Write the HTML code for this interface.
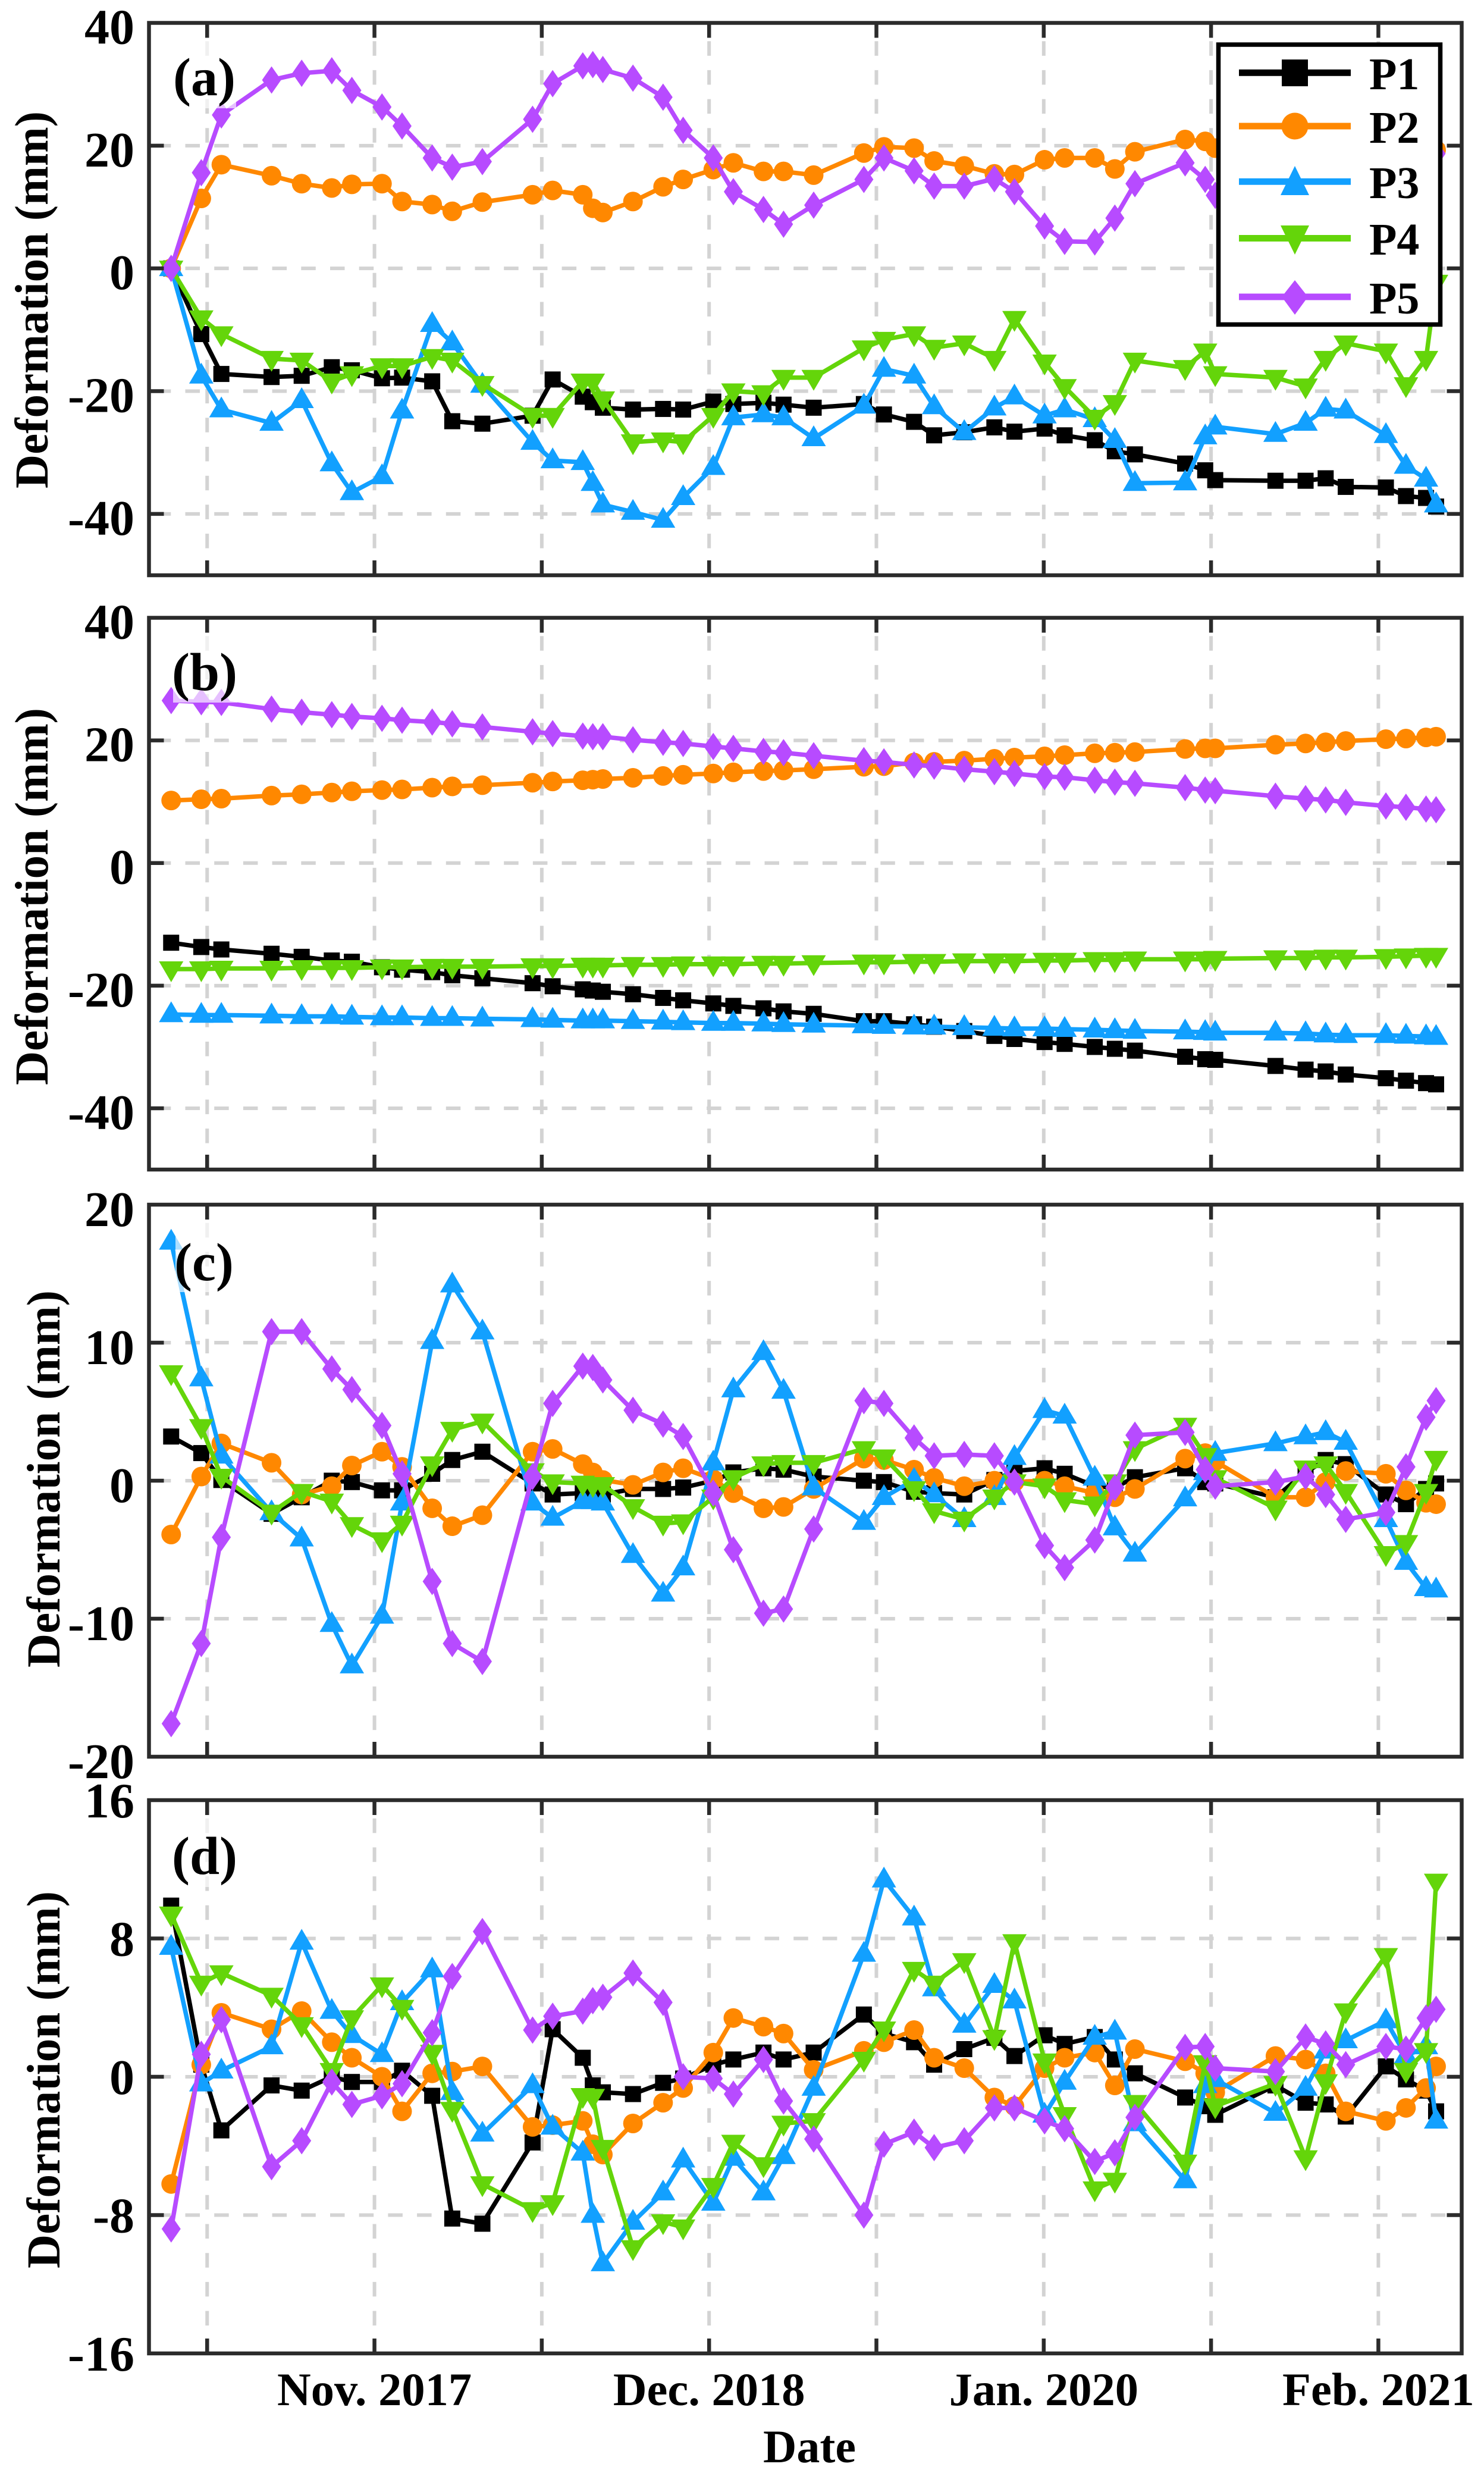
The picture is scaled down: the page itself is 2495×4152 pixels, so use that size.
<!DOCTYPE html>
<html lang="en">
<head>
<meta charset="utf-8">
<title>Deformation time series</title>
<style>
html,body{margin:0;padding:0;background:#fff;}
svg{display:block;}
text{font-family:"Liberation Serif","Noto Serif CJK SC",serif;font-weight:bold;fill:#000;}
</style>
</head>
<body>
<svg id="chart" xmlns="http://www.w3.org/2000/svg" width="2495" height="4152" viewBox="0 0 2495 4152">
<rect x="0" y="0" width="2495" height="4152" fill="#fff"/>
<g id="plots"></g>

<g>
<rect x="293" y="66" width="104" height="116" fill="rgba(255,255,255,.65)"/>
<text x="291" y="160" font-size="90">(a)</text>
<rect x="291" y="1066" width="108" height="115" fill="rgba(255,255,255,.65)"/>
<text x="289" y="1160" font-size="90">(b)</text>
<rect x="295" y="2055" width="98" height="117" fill="rgba(255,255,255,.65)"/>
<text x="293" y="2152" font-size="90">(c)</text>
<rect x="291" y="3055" width="108" height="117" fill="rgba(255,255,255,.65)"/>
<text x="289" y="3150" font-size="90">(d)</text>
</g>

<g>
<text transform="translate(80,504) rotate(-90)" text-anchor="middle" font-size="79">Deformation (mm)</text>
<text transform="translate(80,1507) rotate(-90)" text-anchor="middle" font-size="79">Deformation (mm)</text>
<text transform="translate(100,2486) rotate(-90)" text-anchor="middle" font-size="79">Deformation (mm)</text>
<text transform="translate(100,3496) rotate(-90)" text-anchor="middle" font-size="79">Deformation (mm)</text>
</g>

<text x="1361" y="4139" text-anchor="middle" font-size="78">Date</text>

<g>
<rect x="2048.5" y="75" width="373" height="470.5" fill="#fff" stroke="#000" stroke-width="7.5"/>
<g>
<line x1="2083" y1="122.3" x2="2271" y2="122.3" stroke="#000" stroke-width="11"/>
<rect x="2155" y="100" width="44" height="45" fill="#000"/>
<text x="2302" y="150" font-size="76">P1</text>
</g>
<g>
<line x1="2083" y1="212" x2="2271" y2="212" stroke="#ff8800" stroke-width="11"/>
<circle cx="2177" cy="212" r="22.5" fill="#ff8800"/>
<text x="2302" y="240" font-size="76">P2</text>
</g>
<g>
<line x1="2083" y1="305.3" x2="2271" y2="305.3" stroke="#12a0ff" stroke-width="11"/>
<polygon points="2177,279 2201,328 2153,328" fill="#12a0ff"/>
<text x="2302" y="333" font-size="76">P3</text>
</g>
<g>
<line x1="2083" y1="400.5" x2="2271" y2="400.5" stroke="#64d50a" stroke-width="11"/>
<polygon points="2153,379 2201,379 2177,428" fill="#64d50a"/>
<text x="2302" y="428" font-size="76">P4</text>
</g>
<g>
<line x1="2083" y1="499" x2="2271" y2="499" stroke="#b74bff" stroke-width="11"/>
<polygon points="2177,471 2199,499 2177,529 2155,499" fill="#b74bff"/>
<text x="2302" y="527" font-size="76">P5</text>
</g>
</g>
</svg>

<script>
// Observation epochs, in days since the first acquisition
const obsDays = [0,36,60,120,156,192,216,252,276,312,336,372,432,456,492,504,516,552,588,612,648,672,708,732,768,828,852,888,912,948,984,1008,1044,1068,1104,1128,1152,1212,1236,1248,1320,1356,1380,1404,1452,1476,1500,1512];

// X ticks, in days since the first acquisition
const xTickDays = [43,243,443,643,843,1043,1243,1443];
const xTickLabels = ["","Nov. 2017","","Dec. 2018","","Jan. 2020","","Feb. 2021"];

// Y ticks
const yTicksA = [40,20,0,-20,-40];
const yTicksB = [40,20,0,-20,-40];
const yTicksC = [20,10,0,-10,-20];
const yTicksD = [16,8,0,-8,-16];

// Panel (a)
const a_P1 = [0,-10.7,-17.2,-17.7,-17.5,-16.1,-16.6,-17.9,-17.8,-18.4,-24.9,-25.3,-24,-18.1,-20.9,-21.8,-22.7,-23,-22.9,-23,-21.7,-22.1,-21.9,-22.2,-22.7,-22.1,-23.8,-25,-27.2,-26.7,-25.9,-26.6,-26.1,-27.2,-28,-29.8,-30.3,-31.8,-32.9,-34.5,-34.6,-34.6,-34.2,-35.6,-35.7,-37.1,-37.4,-38.8];
const a_P2 = [0,11.4,16.9,15.1,13.8,13.1,13.7,13.8,10.9,10.4,9.3,10.8,12,12.7,12,9.8,9.1,10.9,13.3,14.5,16.1,17.2,15.8,15.8,15.2,18.8,19.8,19.6,17.5,16.7,15.4,15.3,17.7,18,18,16.2,19,21,20.7,19.6,19,19.5,19,20,20,19.5,19.5,19.3];
const a_P3 = [0,-17.5,-23,-25.2,-21.5,-31.8,-36.5,-33.9,-23.2,-9.1,-12.1,-19,-28.3,-31.3,-31.6,-35,-38.5,-39.7,-41,-37.3,-32.4,-24.3,-23.8,-24.3,-27.7,-22.4,-16.4,-17.5,-22.5,-26.7,-22.7,-20.9,-24,-23,-24.6,-28,-35,-34.9,-27.4,-25.8,-27,-25.2,-22.9,-23.2,-27.2,-32.2,-34.3,-38.5];
const a_P4 = [0,-8.1,-10.7,-14.7,-15,-18.4,-17.2,-15.9,-15.9,-14.4,-15,-18.8,-24,-24,-18.4,-18.4,-21.3,-28.3,-28,-28.3,-24,-20,-20.3,-17.8,-17.8,-13,-11.6,-10.7,-12.9,-12.2,-14.7,-8.2,-15.3,-19.3,-24.3,-21.9,-15,-16.2,-13.5,-17.2,-17.8,-19.2,-14.7,-12.2,-13.5,-19,-14.7,-2.3];
const a_P5 = [0,15.6,25,30.7,31.8,32.2,29,26.3,23.2,18,16.5,17.4,24.3,30.1,33,33.2,32.4,31,27.9,22.5,18,12.5,9.6,7.2,10.3,14.5,18,15.9,13.4,13.4,14.6,12.5,6.9,4.4,4.3,8.2,13.8,17.2,14.5,11.9,12,13,14,14,15,17,18,18.7];

// Panel (b)
const b_P1 = [-13,-13.7,-14.1,-14.8,-15.3,-15.9,-16.1,-17,-17.4,-17.8,-18.3,-18.8,-19.6,-20.1,-20.6,-20.8,-21,-21.4,-22,-22.4,-22.9,-23.3,-23.7,-24.2,-24.6,-25.8,-25.8,-26.3,-26.7,-27.4,-28.2,-28.7,-29.2,-29.5,-30,-30.3,-30.6,-31.6,-32,-32.1,-33.1,-33.7,-34,-34.5,-35.1,-35.5,-35.9,-36.1];
const b_P2 = [10.2,10.4,10.5,11,11.2,11.5,11.7,11.9,12,12.3,12.5,12.7,13.1,13.3,13.5,13.6,13.7,13.9,14.2,14.4,14.6,14.8,15,15.1,15.3,15.7,15.8,16.4,16.5,16.7,17,17.2,17.4,17.6,17.9,18,18.1,18.6,18.7,18.7,19.3,19.5,19.7,19.9,20.2,20.3,20.5,20.6];
const b_P3 = [-24.7,-24.8,-24.8,-24.9,-25,-25,-25.1,-25.2,-25.2,-25.3,-25.3,-25.4,-25.5,-25.6,-25.7,-25.7,-25.7,-25.8,-25.9,-26,-26.1,-26.1,-26.2,-26.3,-26.4,-26.5,-26.6,-26.7,-26.7,-26.8,-26.9,-27,-27,-27.1,-27.2,-27.3,-27.4,-27.5,-27.6,-27.7,-27.7,-27.8,-28,-28.1,-28.1,-28.2,-28.3,-28.4];
const b_P4 = [-17.3,-17.3,-17.2,-17.2,-17.1,-17.1,-17.1,-17,-17,-16.9,-16.9,-16.9,-16.8,-16.8,-16.7,-16.7,-16.7,-16.6,-16.6,-16.5,-16.5,-16.5,-16.4,-16.4,-16.3,-16.2,-16.2,-16.1,-16.1,-16,-16,-16,-15.9,-15.9,-15.8,-15.8,-15.7,-15.7,-15.7,-15.6,-15.5,-15.5,-15.4,-15.4,-15.3,-15.2,-15.1,-15.1];
const b_P5 = [26.5,26.3,26.2,25.1,24.6,24.2,23.9,23.6,23.3,23,22.7,22.2,21.4,21.1,20.7,20.6,20.6,20.1,19.7,19.5,19,18.7,18.2,18,17.5,16.7,16.5,16,15.8,15.3,14.9,14.6,14.1,14,13.5,13.2,13,12.3,11.9,11.8,10.9,10.5,10.3,9.9,9.3,9.1,8.8,8.7];

// Panel (c)
const c_P1 = [3.2,2,0.05,-2.4,-1.2,0,-0.1,-0.7,-0.7,0.5,1.5,2.1,-0.2,-1,-0.9,-1,-1,-0.6,-0.6,-0.5,0,0.6,0.9,0.8,0.3,0,-0.1,-0.8,-0.9,-1,0.05,0.7,0.9,0.5,-0.4,-0.5,0.25,0.9,-0.1,-0.2,-1.2,0.6,1.5,1.2,-1,-1.7,-0.6,-0.2];
const c_P2 = [-3.9,0.3,2.7,1.3,-1,-0.4,1.1,2.1,1,-2,-3.3,-2.5,2.1,2.3,1.2,0.6,0.05,-0.3,0.6,0.9,0.1,-0.9,-2,-1.9,-0.6,1.6,1.5,0.8,0.2,-0.4,0,-0.1,0,-0.4,-0.9,-1.2,-0.6,1.6,2,1.4,-1.2,-1.2,-0.1,0.7,0.5,-0.7,-1.6,-1.7];
const c_P3 = [17.3,7.4,1.8,-2.3,-4.2,-10.4,-13.4,-9.8,-1.6,10.1,14.2,10.8,-1.6,-2.7,-1.5,-1.5,-1.6,-5.4,-8.2,-6.3,1.3,6.6,9.3,6.5,-0.5,-3,-1.2,0.05,-1,-2.8,-1.2,1.7,5.1,4.7,0.2,-3.4,-5.3,-1.3,0.6,2,2.7,3.2,3.5,2.8,-2.8,-5.9,-7.8,-7.9];
const c_P4 = [7.8,3.9,0.3,-2.3,-0.8,-1.5,-3.2,-4.3,-3.1,1.2,3.7,4.3,0.7,-0.1,-0.2,-0.3,-0.3,-1.9,-3.1,-3,-1.2,0.2,1.2,1.3,1.3,2.3,1.7,-0.6,-2.2,-2.8,-1.2,-0.1,-0.4,-1.4,-1.7,-0.1,2.3,4,1.8,0.2,-2,0.9,1.2,-0.8,-5.3,-4.5,-0.8,1.6];
const c_P5 = [-17.6,-11.8,-4.1,10.8,10.8,8.1,6.6,4,0.5,-7.3,-11.8,-13.1,0.3,5.6,8.3,8.2,7.3,5.1,4.1,3.2,-0.9,-5,-9.6,-9.3,-3.5,5.8,5.6,3.1,1.8,1.9,1.8,-0.1,-4.7,-6.3,-4.3,-0.5,3.3,3.5,0.8,-0.4,-0.1,0.3,-1,-2.8,-2.3,1,4.6,5.8];

// Panel (d)
const d_P1 = [9.9,0.7,-3.1,-0.5,-0.8,0,-0.3,-0.3,0.35,-1.1,-8.2,-8.5,-3.8,2.75,1.1,-0.5,-0.9,-1,-0.35,-0.1,0.7,1,1.4,1,1.4,3.6,2.5,2,0.7,1.6,2.25,1.2,2.4,1.9,2.3,1,0.2,-1.2,-1.7,-2.2,-0.5,-1.5,-1.6,-2.3,0.6,-0.15,-0.8,-2];
const d_P2 = [-6.2,0.7,3.7,2.75,3.8,2,1.1,0,-2,0.2,0.3,0.6,-2.9,-2.8,-2.55,-3.9,-4.5,-2.7,-1.5,-0.65,1.4,3.4,2.9,2.5,0.4,1.5,2,2.7,1.1,0.5,-1.2,-1.7,0.5,1.1,1.4,-0.5,1.6,0.9,0.2,-0.9,1.2,1,0.2,-2,-2.55,-1.8,-0.65,0.6];
const d_P3 = [7.5,-0.4,0.35,1.75,7.8,3.8,2.4,1.3,4.3,6.2,-0.9,-3.3,-0.5,-2.9,-4.4,-8,-10.8,-8.4,-6.7,-4.8,-7.3,-4.7,-6.7,-4.6,-0.65,7.1,11.4,9.2,5.1,3,5.3,4.4,-2.2,-0.3,2.3,2.6,-2.7,-6,-0.5,-0.15,-2.1,-0.65,1.5,2.1,3.25,1.2,1.75,-2.55];
const d_P4 = [9.4,5.4,6,4.7,3,0.35,3.4,5.3,4,1.4,-1.9,-6.2,-7.7,-7.3,-1.1,-1.15,-4.1,-9.9,-8.4,-8.7,-6.3,-3.8,-5.1,-2.7,-2.55,1,2.75,6.2,5.4,6.7,2.25,7.8,0.9,-2.2,-6.5,-6,-1.5,-4.95,0.8,-1.7,-0.4,-4.7,-0.3,3.8,7,0.35,1.5,11.3];
const d_P5 = [-8.8,1.3,3.3,-5.2,-3.7,-0.3,-1.6,-1.1,-0.4,2.55,5.8,8.4,2.7,3.5,3.8,4.4,4.6,6,4.3,0,-0.1,-1,1,-1.4,-3.6,-8,-3.9,-3.2,-4.1,-3.7,-1.8,-1.8,-2.55,-3,-4.9,-4.4,-2.35,1.7,1.75,0.5,0.3,2.3,1.9,0.7,1.75,1.6,3.4,3.9];

const seriesColors = ["#000000","#ff8800","#12a0ff","#64d50a","#b74bff"];
const seriesNames = ["p1","p2","p3","p4","p5"];

const NS = "http://www.w3.org/2000/svg";
const plots = document.getElementById("plots");
const AX_LEFT = 250.5, AX_RIGHT = 2457.5;
const DAY_MIN = -26.5, DAY_MAX = 1542.6;
const TICK_LEN = 25;
const AXIS_COLOR = "#2b2b2b";
const GRID_COLOR = "#d3d3d3";

function xScale(day){
  return AX_LEFT + (day - DAY_MIN) / (DAY_MAX - DAY_MIN) * (AX_RIGHT - AX_LEFT);
}
function makeYScale(vMax, vMin, top, bottom){
  return function(v){ return top + (vMax - v) / (vMax - vMin) * (bottom - top); };
}
function mk(parent, tag, attrs){
  const node = document.createElementNS(NS, tag);
  for (const k in attrs) node.setAttribute(k, attrs[k]);
  parent.appendChild(node);
  return node;
}
function drawMarker(parent, s, x, y){
  const c = seriesColors[s];
  let m;
  if (s === 0) m = mk(parent, "rect", {x:x-13.5, y:y-13.5, width:27, height:27, fill:c});
  else if (s === 1) m = mk(parent, "circle", {cx:x, cy:y, r:16.5, fill:c});
  else if (s === 2) m = mk(parent, "polygon", {points:(x)+","+(y-22)+" "+(x+20.5)+","+(y+13)+" "+(x-20.5)+","+(y+13), fill:c});
  else if (s === 3) m = mk(parent, "polygon", {points:(x-20.5)+","+(y-13)+" "+(x+20.5)+","+(y-13)+" "+(x)+","+(y+22), fill:c});
  else m = mk(parent, "polygon", {points:(x)+","+(y-23)+" "+(x+16)+","+(y)+" "+(x)+","+(y+23)+" "+(x-16)+","+(y), fill:c});
  return m;
}

function drawPanel(id, top, bottom, vMax, vMin, yTicks, data, labelOffset, showXLabels){
  const y = makeYScale(vMax, vMin, top, bottom);
  const g = mk(plots, "g", {});
  
  

  // grid
  const grid = mk(g, "g", {stroke:GRID_COLOR, "stroke-width":6, "stroke-dasharray":"24.5 24.2", fill:"none"});
  
  
  xTickDays.forEach(function(d){
    const gv = mk(grid, "line", {x1:xScale(d), x2:xScale(d), y1:top, y2:bottom, "stroke-dashoffset":18});
    
    
  });
  yTicks.forEach(function(v){
    if (v === vMax || v === vMin) return;
    const gh = mk(grid, "line", {x1:AX_LEFT, x2:AX_RIGHT, y1:y(v), y2:y(v), "stroke-dashoffset":36.4});
    
    
  });

  // series
  data.forEach(function(vals, s){
    const sg = mk(g, "g", {});
    
    
    const pts = vals.map(function(v, i){ return xScale(obsDays[i]) + "," + y(v); }).join(" ");
    const line = mk(sg, "polyline", {points:pts, fill:"none", stroke:seriesColors[s], "stroke-width":7.5, "stroke-linejoin":"round"});
    
    
    vals.forEach(function(v, i){
      const mark = drawMarker(sg, s, xScale(obsDays[i]), y(v));
      
      
    });
  });

  // axes ticks
  const axes = mk(g, "g", {stroke:AXIS_COLOR, "stroke-width":6.5, fill:"none"});
  
  
  xTickDays.forEach(function(d){
    const x = xScale(d);
    const tb = mk(axes, "line", {x1:x, x2:x, y1:bottom, y2:bottom-TICK_LEN});
    
    
    const tt = mk(axes, "line", {x1:x, x2:x, y1:top, y2:top+TICK_LEN});
    
    
  });
  yTicks.forEach(function(v){
    if (v === vMax || v === vMin) return;
    const tl = mk(axes, "line", {x1:AX_LEFT, x2:AX_LEFT+TICK_LEN, y1:y(v), y2:y(v)});
    
    
    const tr = mk(axes, "line", {x1:AX_RIGHT, x2:AX_RIGHT-TICK_LEN, y1:y(v), y2:y(v)});
    
    
  });
  const frame = mk(axes, "rect", {x:AX_LEFT, y:top, width:AX_RIGHT-AX_LEFT, height:bottom-top});
  
  

  // y tick labels
  yTicks.forEach(function(v){
    const t = mk(g, "text", {x:226, y:y(v)+labelOffset, "text-anchor":"end", "font-size":84});
    t.textContent = String(v);
    
    
  });

  // x tick labels
  if (showXLabels){
    xTickDays.forEach(function(d, i){
      if (!xTickLabels[i]) return;
      const t = mk(g, "text", {x:xScale(d), y:4043, "text-anchor":"middle", "font-size":78.5});
      t.textContent = xTickLabels[i];
      
      
    });
  }
}

drawPanel("a", 38.5, 967, 40, -50, yTicksA, [a_P1,a_P2,a_P3,a_P4,a_P5], 35, false);
drawPanel("b", 1038.5, 1966, 40, -50, yTicksB, [b_P1,b_P2,b_P3,b_P4,b_P5], 35, false);
drawPanel("c", 2025, 2953, 20, -20, yTicksC, [c_P1,c_P2,c_P3,c_P4,c_P5], 36, false);
drawPanel("d", 3026, 3956, 16, -16, yTicksD, [d_P1,d_P2,d_P3,d_P4,d_P5], 29, true);
</script>
</body>
</html>
